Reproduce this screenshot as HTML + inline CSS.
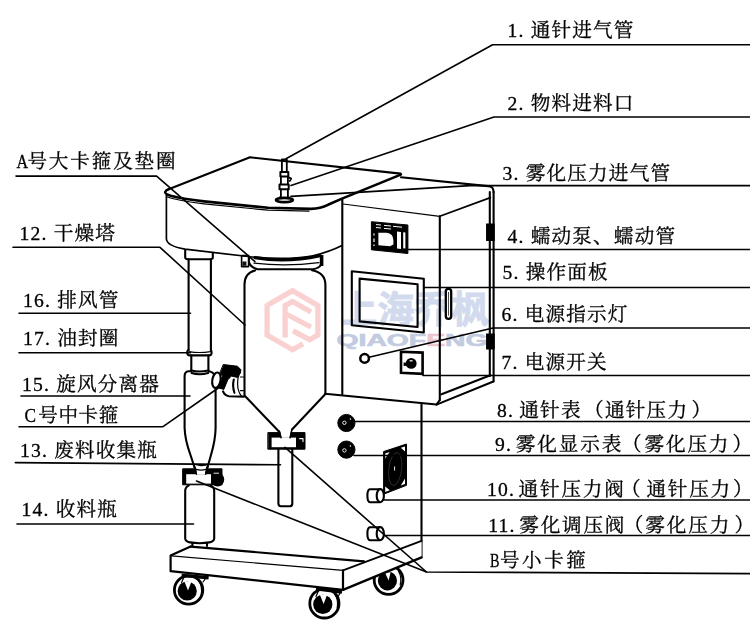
<!DOCTYPE html>
<html lang="zh-CN">
<head>
<meta charset="utf-8">
<title>喷雾干燥机结构示意图</title>
<style>
html,body{margin:0;padding:0;background:#fff;}
body{width:750px;height:641px;overflow:hidden;position:relative;}
svg{display:block;position:absolute;left:0;top:0;}
.lbl{font-family:"Liberation Serif","Noto Serif CJK SC",serif;font-size:19.6px;fill:#000;letter-spacing:1.2px;stroke:#000;stroke-width:0.3px;}
.ld{stroke:#000;stroke-width:1.6;fill:none;stroke-linecap:round;stroke-linejoin:round;}
.m{stroke:#000;stroke-width:2.1;fill:none;stroke-linecap:round;stroke-linejoin:round;}
.mw{stroke:#000;stroke-width:2.1;fill:#fff;stroke-linecap:round;stroke-linejoin:round;}
.t{stroke:#000;stroke-width:1.2;fill:none;stroke-linecap:round;stroke-linejoin:round;}
.k{fill:#000;stroke:#000;stroke-width:1;}
.wm{font-family:"Liberation Sans","Noto Sans CJK SC",sans-serif;font-weight:bold;fill:#c3cde6;}
</style>
</head>
<body>
<svg width="750" height="641" viewBox="0 0 750 641">
<rect width="750" height="641" fill="#fff"/>

<!-- WATERMARK -->
<g id="wm">
<g fill="none" stroke="#f9d1d1" stroke-width="5.3" stroke-linejoin="miter" stroke-linecap="butt">
<path d="M303 343.7L292.5 349.8L267.1 335V305.4L292.5 290.6L317.9 305.4V334.9L309.6 339.7L293 330.9"/>
<path d="M285.1 337.4V305.6L292.6 301.5L311 312"/>
<path d="M286 314L311 327"/>
</g>
<text x="340" y="323" class="wm" font-size="37" textLength="149" lengthAdjust="spacingAndGlyphs" style="fill:#d2dbee;stroke:#d2dbee;stroke-width:0.9px">上海乔枫</text>
<text x="336.5" y="345.6" class="wm" font-size="15.6" textLength="151" lengthAdjust="spacingAndGlyphs" style="fill:#c2cbe0;stroke:#c2cbe0;stroke-width:0.6px">QIAOF<tspan style="fill:#ecc6cf;stroke:#ecc6cf">E</tspan>NG</text>
</g>
<!-- MACHINE -->
<g id="machine">
<!-- cabinet -->
<g class="m">
<path d="M342.3 199.5V394" />
<path d="M343 204L439.8 216.4" class="t"/>
<path d="M439.8 216.2L490.4 197.6" stroke-width="1.7"/>
<path d="M401 177.3L490.4 186.4" />
<path d="M439.8 216.4V400" />
<path d="M489.8 192V376M493.6 192V381.5" />
<path d="M490.4 186.4Q493.4 187.4 493.6 192" />
<path d="M325 393.8L436.5 404.6L493.4 381.5" stroke-width="2"/>
<path d="M441.5 394.3L490.4 375.2" />
<path d="M436.5 404.6L439.8 400" />
<!-- lower body -->
<path d="M421.5 403.5V556.7" />
</g>
<!-- hinges -->
<rect x="486.6" y="224" width="7.6" height="16.5" class="k"/>
<rect x="486.6" y="334" width="7.6" height="15" class="k"/>
<!-- slot -->
<rect x="445.8" y="288.8" width="5.4" height="30" rx="2.6" fill="#fff" stroke="#000" stroke-width="2.3"/>
<path d="M448.5 292V315.6" stroke="#000" stroke-width="0.7"/>
<!-- pump -->
<path d="M371.4 221.7L407.9 225V253.5L371.4 249.8Z" class="k"/>
<path d="M378.4 232.8H386.5Q393.4 233.5 393.4 240.5V244.5L390 246.3L378.4 245.3Z" fill="#fff"/>
<path d="M397 231.5L401 231.9V249L397 248.6Z" fill="#fff"/>
<path d="M403.2 232.2L405.4 232.4V248.4L403.2 248.2Z" fill="#fff"/>
<path d="M376 224.6L381 225M384 225.4L391 226M393 226.3L402 227.2M376 227.5L381 228M384 228.4L391 229" stroke="#fff" stroke-width="1" fill="none"/>
<path d="M374 233.5V235.5M374 238.5V242M374 244.5V246" stroke="#fff" stroke-width="1.2" fill="none"/>
<!-- screen -->
<path d="M351.8 271.2L423.8 278.8V332.5L351.8 325.2Z" class="m" stroke-width="2.5"/>
<path d="M359.6 278.6L417.6 284.2V327L359.6 321.4Z" class="m" stroke-width="2.3"/>
<!-- indicator -->
<circle cx="364.6" cy="358.4" r="4.3" fill="#fff" stroke="#000" stroke-width="2.5"/>
<!-- switch -->
<path d="M401 351.8L422.6 352.6V373.8L401 372.8Z" fill="#fff" stroke="#000" stroke-width="2.6"/>
<circle cx="411.2" cy="363.4" r="5.4" fill="#000"/>
<path d="M403.6 364.2H409" stroke="#000" stroke-width="3.4"/>
<path d="M409.6 360.8H412.6" stroke="#fff" stroke-width="1.2"/>
<!-- gauges -->
<circle cx="346.4" cy="423" r="8.6" class="k"/>
<circle cx="346.4" cy="449.6" r="8.6" class="k"/>
<circle cx="344.4" cy="422.8" r="1.7" fill="none" stroke="#fff" stroke-width="0.9"/><circle cx="350.4" cy="419" r="0.8" fill="#fff"/>
<circle cx="344.4" cy="450.4" r="1.7" fill="none" stroke="#fff" stroke-width="0.9"/><circle cx="350.4" cy="446" r="0.8" fill="#fff"/>
<!-- fan -->
<path d="M383.6 451.6L406.5 444V485.3L383.6 494.2Z" class="k"/>
<path d="M385.2 453.4L389.6 452L385.2 458.4ZM405 446.4L400.8 447.8L405 451.6ZM385.2 492V486.6L389.8 490.2ZM405 484V478.6L400.8 485.6Z" fill="#fff"/>
<ellipse cx="395.2" cy="469" rx="6.4" ry="16.6" fill="#000" stroke="#555" stroke-width="0.5" transform="rotate(7 395.2 469)"/>
<path d="M394.6 466.4V470.6" stroke="#fff" stroke-width="0.9"/>
<!-- valves -->
<g class="mw">
<path d="M370 489.2H379.5V502.2H370Q367.4 502 367.4 495.7Q367.4 489.4 370 489.2Z"/>
<ellipse cx="380.3" cy="495.7" rx="3.6" ry="6.6"/>
<path d="M370 527.2H379.5V540.2H370Q367.4 540 367.4 533.7Q367.4 527.4 370 527.2Z"/>
<ellipse cx="380.3" cy="533.7" rx="3.6" ry="6.6"/>
</g>
<!-- hood top + body -->
<g class="m">
<path d="M168.6 189.2L250 157.3L400.6 173.6" />
<path d="M400.8 174.6L342 198.6L328 204.8Q320.5 208.6 311 208.9L268 207.8L204 201.4Q182 198.8 170.6 195.8Q164.8 194 165.2 192Q165.8 190 168.6 189.2" stroke-width="2.6"/>
<path d="M166.4 195V239Q167 246 185 249.2L248 256.5Q285 260.6 312 256Q330 251.5 342 245.4" stroke-width="1.7"/>
<path d="M166.6 196.8Q178 201 204 203.8L268 210.2L309 211.2" class="t" stroke-width="1"/>
</g>
<!-- ring A -->
<g class="m">
<path d="M249 258.5V262Q250 267 257.5 269.2H313Q319.5 268 320.6 265" />
<path d="M255 257.6Q286 263 320 255.6" stroke-width="3.2"/>
<path d="M254 263.2Q286 267 319 262.6" class="t" stroke-width="0.9"/>
<path d="M321.6 255V266" stroke-width="3.6" stroke-linecap="butt"/>
<path d="M241.6 255.6H248.6V266.6H241.6Z" stroke-width="1.6"/>
<path d="M242.4 261.5H246.4V265.8H242.4Z" fill="#111" stroke="none"/>
</g>
<!-- tower -->
<g class="m">
<path d="M255 270.6Q244.5 273 244.5 285V395.6L279.4 432" />
<path d="M312 270.2Q325.4 272.5 325.4 285V394L292 429.5" />
</g>
<!-- exhaust pipe -->
<g class="m">
<path d="M185.2 250V257.5Q185.4 259.2 188 259.2H210.4Q212.8 259.2 212.8 257.5V253" />
<path d="M188.6 259.2V350M210.9 259.2V350" />
<path d="M188.6 350Q187.2 350.2 187.2 352.8Q187.2 355.4 190 355.4H209Q211.6 355.4 211.6 352.8Q211.6 350.2 210.9 350" />
<path d="M189 351.6Q199 353.4 210.6 351.6" class="t"/>
<path d="M191.3 355.6V370.4M208.4 355.6V370.4" />
<path d="M191.3 370.4Q199 372.6 208.4 370.4M191.6 373Q199 375.4 208.2 373" />
<!-- cyclone -->
<path d="M191 371.2H188.5Q184.6 371.6 184.6 376V428Q185 440 190.5 455L194.4 467" />
<path d="M208.6 371.2Q214 372 215.2 376.5" />
<path d="M215.6 388V428Q215.4 440 211 455L207.6 467" />
<path d="M194.4 467Q195.4 469.8 196.8 470.2M207.6 467Q206.6 469.8 205.2 470.2" />
<path d="M196 464.8Q201 466.4 206.4 464.8" class="t"/>
</g>
<!-- connector clamp C -->
<g class="m">
<ellipse cx="216.4" cy="380.2" rx="4.1" ry="7.8" transform="rotate(10 216.4 380.2)" class="mw"/>
<path d="M223 391.4Q224.6 395.6 229 396.2L243.8 396.6" />
<path d="M233.8 379.6Q232.2 386 234.4 392.8" />
<path d="M240.6 372.4Q237.4 376 237.6 384Q237.8 392 241.4 396" class="t"/>
<path d="M240.4 377H243.4M240.4 390.6H243.4" class="t"/>
<path d="M223.6 364.6L237.4 366.2L241.2 370L237.4 377.4L231.4 376L227.8 379.8L223.8 389.4L218.8 388L222.4 376L220 373.4Z" class="k"/>
</g>
<!-- clamp B + waste tube -->
<g class="m">
<path d="M278.4 449V503.6Q278.6 506.2 281 506.2H289.6Q292.2 506.2 292.3 503.6V449" />
<rect x="268.2" y="432.6" width="36.8" height="16.6" class="k"/>
<rect x="271.6" y="437.6" width="24.4" height="9.6" fill="#fff" stroke="none"/>
<path d="M299.6 438.6H303V441.6" stroke="#fff" stroke-width="1.1"/>
<path d="M280 430.4L281.4 437.8H289.6L291.2 430.4Z" fill="#fff" stroke="none"/>
<path d="M279.4 431.4L281 437.6M291.8 429.6L290.2 437.6" stroke-width="1.6"/>
</g>
<!-- clamp C2 + collection bottle -->
<g class="m">
<rect x="183" y="468.8" width="39" height="16" class="k"/>
<rect x="186.2" y="474.2" width="24.8" height="9.4" fill="#fff" stroke="none"/>
<ellipse cx="217.6" cy="479.6" rx="5.6" ry="5.8" fill="#000"/>
<path d="M195.6 467L196.8 474.2H205.2L206.4 467Z" fill="#fff" stroke="none"/>
<path d="M195.2 467.6L196.4 474.2M206.8 467.6L205.6 474.2" stroke-width="1.5"/>
<path d="M196 469.4Q201 471 206 469.4" class="t" stroke-width="0.9"/>
<path d="M214 473.2H218.6" stroke="#fff" stroke-width="0.9"/>
<path d="M188.6 485.6Q185.2 487 185.2 491V538.6Q185.6 541.6 190 542.4Q199.6 544 209.4 542.4Q213.8 541.6 214.2 538.6V491Q214.2 487 210.8 485.6" />
<path d="M192.4 543.2V546M207 543.2V546" />
</g>
<!-- back wheel -->
<g>
<circle cx="388.6" cy="580" r="14.4" fill="#fff" stroke="#000" stroke-width="2.8"/>
<circle cx="387.4" cy="580.8" r="9.6" fill="#000"/>
<path d="M398.6 571.4Q402 577 400.2 585" class="t" stroke-width="1.7"/>
<path d="M385 572.6L390.6 572.2L388.6 580.4Z" fill="#fff"/>
</g>
<!-- front wheels -->
<g id="whl">
<circle cx="188.6" cy="590" r="14.2" fill="#fff" stroke="#000" stroke-width="2.8"/>
<circle cx="187.2" cy="591" r="9.6" fill="#000"/>
<path d="M198.8 581Q202.6 586.4 201.2 594.6" class="t" stroke-width="1.7"/>
<path d="M184.4 581.6L191.6 581.2L188 590.6Z" fill="#fff"/>
<path d="M181.6 575.4L208.6 577.8" stroke="#000" stroke-width="3.4" fill="none"/>
<path d="M184 577L181.4 583M205.6 578.4L203 582" class="t"/>
</g>
<g>
<circle cx="324.4" cy="603.4" r="14.6" fill="#fff" stroke="#000" stroke-width="2.8"/>
<circle cx="322.8" cy="604.4" r="9.6" fill="#000"/>
<path d="M334.8 594.4Q338.6 599.8 337.2 608" class="t" stroke-width="1.7"/>
<path d="M320 595L327.2 594.6L323.6 604Z" fill="#fff"/>
<path d="M316 588.8L342 592" stroke="#000" stroke-width="3.4" fill="none"/>
<path d="M318.6 590.4L316 596.4M340.4 592.4L338.4 596" class="t"/>
</g>
<!-- platform -->
<g class="m">
<path d="M343 570.4L421.6 540.8V557.4L343 589.8Z" fill="#fff" stroke="none"/>
<path d="M170.6 555.6L190.6 546.6L368 561.8L343 570.4V589.8L170.6 571.2Z" fill="#fff" stroke="none"/>
<path d="M190.6 546.6L170.6 555.6V571.2L343 589.8V570.4" stroke-width="2.2"/>
<path d="M190.6 546.6L364 561.4" stroke-width="2.2"/>
<path d="M171.4 555.8L343 570.4" class="t"/>
<path d="M343 570.4L421.6 540.8" stroke-width="1.8"/>
<path d="M343 589.8L421.6 557.4" stroke-width="2.4"/>
</g>
<!-- needle -->
<g class="m">
<path d="M281.9 159.4V172M286.8 159.4V172M281.9 159.4H286.8" stroke-width="1.8"/>
<rect x="280.4" y="172" width="7.9" height="4.6" fill="#fff" stroke="#000" stroke-width="2"/>
<path d="M280.9 177V184.6M287.9 177V184.6" stroke-width="1.8"/>
<rect x="279.5" y="184.6" width="9.2" height="4.6" fill="#fff" stroke="#000" stroke-width="2"/>
<path d="M280.9 189.4V197M287.9 189.4V197" stroke-width="1.8"/>
<path d="M289.2 177.6L291.2 178.6L289.8 181" stroke-width="1.8"/>
<ellipse cx="284.4" cy="200" rx="8.4" ry="2.1" fill="#fff" stroke="#000" stroke-width="2.8"/>
<path d="M279.6 197.2Q284.4 199.4 289.2 197.2" stroke-width="1.3"/>
</g>
</g>
<!-- LEADERS -->
<g id="leaders" class="ld">
<path d="M750 44.8H492.6L286 158.8"/>
<path d="M750 117H494L291 185.4"/>
<path d="M750 185.6H470L291 196.4"/>
<path d="M750 249.5H408"/>
<path d="M750 287.5H424"/>
<path d="M750 328H493L369 357.2"/>
<path d="M750 375.5H423"/>
<path d="M750 421.5H355"/>
<path d="M750 455.5H354"/>
<path d="M750 500H384"/>
<path d="M750 535.5H385"/>
<path d="M750 573.6L426.5 572L285 447.4"/>
<path d="M426.5 572L196.5 481"/>
<path d="M16 176.1H156.6L255 261.6"/>
<path d="M13 247.3H160L245 325"/>
<path d="M19 313.3H190.5"/>
<path d="M19 352.7H190.5"/>
<path d="M21 396H190"/>
<path d="M19 426.7H163L219 387.5"/>
<path d="M15.3 462.6L280.5 464.8"/>
<path d="M17 524H193.5"/>
</g>

<!-- LABELS -->
<g id="labels" class="lbl" style="filter:grayscale(1)">
<text x="507.5" y="37">1. 通针进气管</text>
<text x="507.5" y="110">2. 物料进料口</text>
<text x="502.5" y="180">3. 雾化压力进气管</text>
<text x="507.5" y="243">4. 蠕动泵、蠕动管</text>
<text x="502.5" y="279">5. 操作面板</text>
<text x="501.5" y="321">6. 电源指示灯</text>
<text x="501.5" y="369">7. 电源开关</text>
<text y="417"><tspan x="497">8.</tspan><tspan x="519.3">通针表</tspan><tspan x="584">（</tspan><tspan x="605">通针压力</tspan><tspan x="691.5">）</tspan></text>
<text y="451"><tspan x="495">9.</tspan><tspan x="515.7" style="letter-spacing:1.9px">雾化显示表</tspan><tspan x="622">（</tspan><tspan x="644.6" style="letter-spacing:1.8px">雾化压力</tspan><tspan x="732.5">）</tspan></text>
<text y="496"><tspan x="487">10.</tspan><tspan x="518.6" style="letter-spacing:1.8px">通针压力阀</tspan><tspan x="621">（</tspan><tspan x="646.4" style="letter-spacing:1.8px">通针压力</tspan><tspan x="733">）</tspan></text>
<text y="532"><tspan x="488.2">11.</tspan><tspan x="519.3" style="letter-spacing:1.8px">雾化调压阀</tspan><tspan x="623.8">（</tspan><tspan x="645.3" style="letter-spacing:1.9px">雾化压力</tspan><tspan x="734.5">）</tspan></text>
<text x="490" y="567" textLength="10.4" lengthAdjust="spacingAndGlyphs">B</text><text x="500" y="567" style="letter-spacing:2.5px">号小卡箍</text>
<text x="16.6" y="168" textLength="12.6" lengthAdjust="spacingAndGlyphs">A</text><text x="27.4" y="168" style="letter-spacing:1.85px">号大卡箍及垫圈</text>
<text x="19.5" y="240">12. 干燥塔</text>
<text x="23" y="307">16. 排风管</text>
<text x="23" y="345">17. 油封圈</text>
<text x="22" y="391">15. 旋风分离器</text>
<text x="24.6" y="422" textLength="12.6" lengthAdjust="spacingAndGlyphs">C</text><text x="38.3" y="422" style="letter-spacing:0.55px">号中卡箍</text>
<text x="20" y="457">13. 废料收集瓶</text>
<text x="21.5" y="516">14. 收料瓶</text>
</g>
</svg>
</body>
</html>
